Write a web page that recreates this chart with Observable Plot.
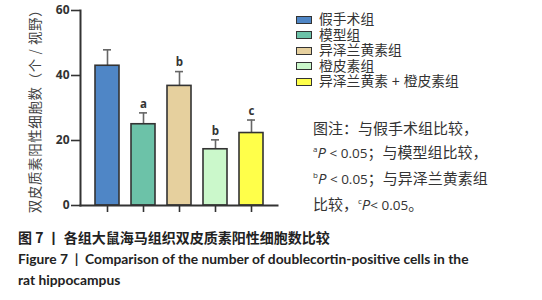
<!DOCTYPE html>
<html><head><meta charset="utf-8">
<script src="https://cdn.jsdelivr.net/npm/d3@7"></script>
<script src="https://cdn.jsdelivr.net/npm/@observablehq/plot@0.6"></script>
<style>
body{margin:0;background:#fff;font-family:"Noto Sans CJK SC",sans-serif;}
#wrap{position:relative;width:542px;height:300px;overflow:hidden;}
#chart{position:absolute;left:0;top:0;}
#legend{position:absolute;left:296px;top:12px;font-size:13.8px;color:#333;line-height:15.5px;font-family:"Liberation Sans","Noto Sans CJK SC",sans-serif;}
#legend div{display:flex;align-items:center;height:15.5px;}
#legend span.sw{display:inline-block;width:14px;height:6px;border:1.6px solid #333;margin-right:7px;}
#note{position:absolute;left:313px;top:117px;font-size:15px;color:#333;line-height:21px;}
#note i{font-family:"Open Sans",sans-serif;font-style:italic;}
#note .en{font-family:"Open Sans",sans-serif;font-size:13.5px;}
#note sup{font-size:8px;font-family:"Open Sans",sans-serif;vertical-align:6px;}
#cap{position:absolute;left:18px;top:227px;color:#222;}
#cap .l1{font-size:14px;font-weight:bold;height:22px;}
#cap .l2{font-family:Lato,sans-serif;font-weight:bold;font-size:13.8px;line-height:20.5px;}
</style></head>
<body><div id="wrap"><div id="chart"></div>
<div id="legend"></div>
<div id="note">图注：与假手术组比较，<br><sup>a</sup><i>P</i><span class="en"> &lt; 0.05</span>；与模型组比较，<br><sup>b</sup><i>P</i><span class="en"> &lt; 0.05</span>；与异泽兰黄素组<br>比较，<sup>c</sup><i>P</i><span class="en">&lt; 0.05</span>。</div>
<div id="cap"><div class="l1">图 7 丨 各组大鼠海马组织双皮质素阳性细胞数比较</div>
<div class="l2">Figure 7 &nbsp;|&nbsp; Comparison of the number of doublecortin-positive cells in the<br>rat hippocampus</div></div>
</div>
<script>
const groups = ["假手术组","模型组","异泽兰黄素组","橙皮素组","异泽兰黄素 + 橙皮素组"];
const means = [43, 25, 36.8, 17.3, 22.3];
const errors = [4.9, 3.5, 4.4, 2.9, 4.0];
const letters = ["", "a", "b", "b", "c"];
const colors = ["#4f86c6","#6cc2a8","#e6d09e","#cbf8cb","#ffff4a"];
const yTicks = [0, 20, 40, 60];

const data = groups.map((g,i)=>({g, m:means[i], e:means[i]+errors[i], l:letters[i]}));

const plot = Plot.plot({
  width: 290, height: 215,
  marginLeft: 80, marginRight: 13, marginTop: 10, marginBottom: 10,
  style:{fontFamily:"'Open Sans',sans-serif", color:"#333", background:"transparent"},
  x:{domain:groups, paddingInner:0.33, paddingOuter:0, insetLeft:14, insetRight:12, axis:null},
  y:{domain:[0,60], axis:null},
  color:{domain:groups, range:colors},
  marks:[
    Plot.ruleX(data, {x:"g", y1:"m", y2:"e", stroke:"#666", strokeWidth:1.6}),
    Plot.tickY(data, {x:"g", y:"e", stroke:"#666", strokeWidth:1.6, insetLeft:8, insetRight:8}),
    Plot.barY(data, {x:"g", y:"m", fill:"g", stroke:"#333", strokeWidth:1.6}),
    Plot.text(data, {x:"g", y:"e", text:"l", dy:-9, fontSize:11.5, fontWeight:"bold", fill:"#333"}),
    Plot.axisY({ticks:yTicks, tickSize:9, tickPadding:2, fontSize:12, fontWeight:"bold", stroke:"#333", strokeWidth:1.6,
      label:"双皮质素阳性细胞数（个 / 视野）", labelAnchor:"center", labelArrow:"none", labelOffset:50}),
    Plot.axisX({tickSize:7, tickFormat:()=>"", label:null, stroke:"#333", strokeWidth:1.6}),
    Plot.frame({anchor:"left", stroke:"#333", strokeWidth:2}),
    Plot.frame({anchor:"bottom", stroke:"#333", strokeWidth:2})
  ]
});
d3.select(plot).selectAll("[aria-label='y-axis label'] text")
  .style("font-family","'Noto Sans CJK SC',sans-serif").style("font-size","13.5px")
  .style("letter-spacing","0.6px").style("font-weight","normal").attr("fill","#444");
document.getElementById("chart").appendChild(plot);

const lg = document.getElementById("legend");
groups.forEach((g,i)=>{
  const d = document.createElement("div");
  d.innerHTML = `<span class="sw" style="background:${colors[i]}"></span>${g}`;
  lg.appendChild(d);
});
</script></body></html>
